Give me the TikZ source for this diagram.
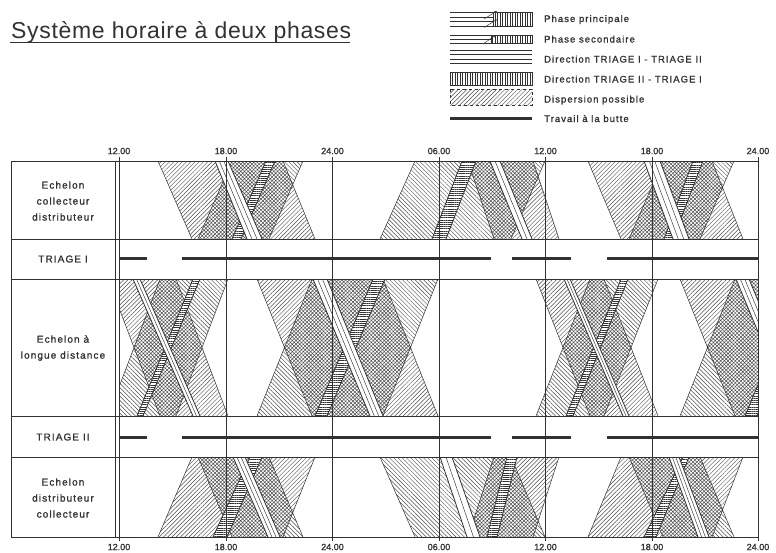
\documentclass[tikz,border=0pt]{standalone}
\usepackage{fontspec}
\setmainfont{Liberation Sans}
\newfontfamily\letterfont[LetterSpace=11, FakeBold=1.2]{Liberation Sans}
\newfontfamily\titlefont[LetterSpace=3]{Liberation Sans}
\newfontfamily\numfont[FakeBold=1.2]{Liberation Sans}
\usetikzlibrary{
  arrows.meta,
  patterns.meta,
  calc
}
\definecolor{ink_gray}{RGB}{50, 50, 50}
\definecolor{hatch_gray}{RGB}{75, 75, 75}

% quadrilateral corners: name, ytop, ybot, tl/tr/bl/br
\def\SetQuad#1#2#3#4/#5/#6/#7\relax{%
  \coordinate (#1tl) at (#4,#2);
  \coordinate (#1tr) at (#5,#2);
  \coordinate (#1br) at (#7,#3);
  \coordinate (#1bl) at (#6,#3);}

% dispersion of both directions, overlap cross-hatched
\newcommand{\DispCluster}[4]{%
  \SetQuad{A}{#1}{#2}#3\relax
  \SetQuad{B}{#1}{#2}#4\relax
  \fill[disp a] (Atl) -- (Atr) -- (Abr) -- (Abl) -- cycle;
  \fill[disp b] (Btl) -- (Btr) -- (Bbr) -- (Bbl) -- cycle;
  \begin{scope}
    \clip (Atl) -- (Atr) -- (Abr) -- (Abl) -- cycle;
    \fill[white] (Btl) -- (Btr) -- (Bbr) -- (Bbl) -- cycle;
    \fill[overlap] (Btl) -- (Btr) -- (Bbr) -- (Bbl) -- cycle;
  \end{scope}
  \draw[disp edge] (Atl) -- (Abl) (Atr) -- (Abr) (Btl) -- (Bbl) (Btr) -- (Bbr);}

% band TRIAGE I -> TRIAGE II (lines along the band)
\newcommand{\BandPar}[7][0.5]{%
  \fill[white] (#4,#2) -- (#5,#2) -- (#7,#3) -- (#6,#3) -- cycle;
  \draw[band edge] (#4,#2) -- (#6,#3) (#5,#2) -- (#7,#3);
  \foreach \f in {#1}
    \draw[band inner] ({#4+\f*(#5-#4)},#2) -- ({#6+\f*(#7-#6)},#3);}

% band TRIAGE II -> TRIAGE I (rungs across the band)
\newcommand{\BandLad}[6]{%
  \fill[white] (#3,#1) -- (#4,#1) -- (#6,#2) -- (#5,#2) -- cycle;
  \fill[rungs] (#3,#1) -- (#4,#1) -- (#6,#2) -- (#5,#2) -- cycle;
  \draw[band edge] (#3,#1) -- (#5,#2) (#4,#1) -- (#6,#2);}

\begin{document}
\begin{tikzpicture}[
    x=1pt, y=-1pt,
    % Lines
    grid line/.style={draw=ink_gray, line width=0.7pt},
    disp a/.style={pattern={Lines[angle=45,distance=3pt,line width=0.45pt]}, pattern color=hatch_gray},
    disp b/.style={pattern={Lines[angle=-45,distance=3pt,line width=0.45pt]}, pattern color=hatch_gray},
    overlap/.style={pattern={Hatch[angle=45,distance=2.6pt,line width=0.5pt]}, pattern color=hatch_gray},
    disp edge/.style={draw=ink_gray, line width=0.5pt},
    band edge/.style={draw=ink_gray, line width=0.8pt},
    band inner/.style={draw=ink_gray, line width=0.45pt},
    rungs/.style={pattern={Lines[angle=0,distance=2.2pt,line width=0.5pt]}, pattern color=ink_gray},
    rungs vert/.style={pattern={Lines[angle=90,distance=2.5pt,line width=0.5pt]}, pattern color=ink_gray},
    butte/.style={draw=ink_gray, line width=3pt},
    % Texts
    rowlbl/.style={font=\letterfont\fontsize{10}{16}\selectfont, text=ink_gray, align=center, inner sep=0pt},
    timelbl/.style={font=\numfont\fontsize{9}{10}\selectfont, text=ink_gray, inner sep=0pt},
    leglbl/.style={font=\letterfont\fontsize{9.5}{10}\selectfont, text=ink_gray, anchor=base west, inner sep=0pt}
]
\useasboundingbox (0,0) rectangle (776,552);
\fill[white] (0,0) rectangle (776,552);

% --- TITLE ---
\node[font=\titlefont\fontsize{23}{26}\selectfont, text=ink_gray, anchor=base west, inner sep=0pt] (title) at (11,38) {Système horaire à deux phases};
\draw[ink_gray, line width=1.3pt] (10,42.5) -- (350,42.5);

% --- LEGEND ---
% phase principale
\foreach \y in {12.5,17,21.5,26} \draw[band inner] (450,\y) -- (493,\y);
\fill[rungs vert] (493,12.5) rectangle (532,26);
\draw[band inner] (493,12.5) rectangle (532,26);
\draw[band inner, -{Stealth[length=3pt,width=2.5pt]}] (484,19) -- (497,11);
\draw[band inner, -{Stealth[length=3pt,width=2.5pt]}] (484,27.5) -- (497,19.5);
% phase secondaire
\foreach \y in {35,39,43} \draw[band inner] (450,\y) -- (491,\y);
\fill[rungs vert] (491,35.5) rectangle (532,43);
\draw[band inner] (491,35.5) rectangle (532,43);
\draw[band inner, -{Stealth[length=3pt,width=2.5pt]}] (483,44) -- (496,35);
% directions
\foreach \y in {50.5,54.5,59,63} \draw[band inner] (450,\y) -- (532,\y);
\fill[rungs vert] (450,72) rectangle (532,85);
\draw[band inner] (450,72) rectangle (532,85);
% dispersion, travail
\fill[disp a] (450,89) rectangle (532,105);
\draw[band inner, dashed] (450,89) rectangle (532,105);
\draw[butte] (450,118) -- (532,118);

\node[leglbl] (leg1) at (544,22) {Phase principale};
\node[leglbl] (leg2) at (544,42.5) {Phase secondaire};
\node[leglbl] (leg3) at (544,62.5) {Direction TRIAGE I - TRIAGE II};
\node[leglbl] (leg4) at (544,82.5) {Direction TRIAGE II - TRIAGE I};
\node[leglbl] (leg5) at (544,102.5) {Dispersion possible};
\node[leglbl] (leg6) at (544,122) {Travail à la butte};

% --- ROW 1: echelon collecteur distributeur ---
\begin{scope}
  \clip (119,161) rectangle (758,239);
  \DispCluster{161}{239}{158/283/192/315}{232/303/198/269}
  \DispCluster{161}{239}{468/533/494/559}{415/545/380/511}
  \DispCluster{161}{239}{588/712/621/743}{663/734/629/700}
  \BandLad{161}{239}{266}{275}{232}{241}
  \BandPar[0.33,0.67]{161}{239}{215}{228}{247}{262}
  \BandLad{161}{239}{462}{476}{432}{446}
  \BandPar{161}{239}{490}{500}{522}{532}
  \BandLad{161}{239}{693}{703}{664}{673}
  \BandPar[0.33,0.67]{161}{239}{644}{660}{673}{689}
\end{scope}

% --- ROW 3: echelon a longue distance ---
\begin{scope}
  \clip (119,279) rectangle (758,416);
  \DispCluster{279}{416}{108/176/160/228}{160/228/108/176}
  \DispCluster{279}{416}{257/383/312/438}{312/438/257/383}
  \DispCluster{279}{416}{536/604/590/658}{590/658/536/604}
  \DispCluster{279}{416}{680/800/735/855}{735/855/680/800}
  \BandLad{279}{416}{193}{200}{137}{143}
  \BandPar{279}{416}{133}{140}{193}{200}
  \BandLad{279}{416}{373}{385}{315}{327}
  \BandPar[0.33,0.67]{279}{416}{313}{327}{370}{383}
  \BandLad{279}{416}{621}{628}{566}{573}
  \BandPar{279}{416}{564}{570}{623}{629}
  \BandLad{279}{416}{802}{814}{745}{757}
  \BandPar[0.33,0.67]{279}{416}{736}{749}{793}{806}
\end{scope}

% --- ROW 5: echelon distributeur collecteur ---
\begin{scope}
  \clip (119,457) rectangle (758,537);
  \DispCluster{457}{537}{192/315/158/283}{198/269/232/303}
  \DispCluster{457}{537}{494/559/468/533}{380/511/415/545}
  \DispCluster{457}{537}{621/743/588/712}{629/700/663/734}
  \BandLad{457}{537}{250}{262}{213}{227}
  \BandPar[0.33,0.67]{457}{537}{233}{245}{268}{280}
  \BandLad{457}{537}{507}{517}{487}{497}
  \BandPar{457}{537}{440}{452}{467}{480}
  \BandLad{457}{537}{683}{689}{644}{656}
  \BandPar[0.33,0.67]{457}{537}{669}{679}{698}{709}
\end{scope}

% --- TRAVAIL A LA BUTTE ---
\foreach \y in {258,437}
  \foreach \a/\b in {119/147,182/491,512/571,607/758}
    \draw[butte] (\a,\y) -- (\b,\y);

% --- GRID ---
\foreach \y in {161,239,279,416,457,537}
  \draw[grid line] (11,\y) -- (758,\y);
\draw[grid line] (11,161) -- (11,537) (115,161) -- (115,537);
\foreach \x in {119,226,332.5,439,545.5,652,758}
  \draw[grid line] (\x,157) -- (\x,541);

% --- TIME LABELS ---
\foreach \x/\t [count=\i] in {119/12.00,226/18.00,332.5/24.00,439/06.00,545.5/12.00,652/18.00,758/24.00} {
  \node[timelbl] (ttop\i) at (\x,151) {\t};
  \node[timelbl] (tbot\i) at (\x,547) {\t};
}

% --- ROW LABELS ---
\node[rowlbl] (lab1) at (63,201) {Echelon\\collecteur\\distributeur};
\node[rowlbl] (tri1) at (63,259) {TRIAGE I};
\node[rowlbl] (lab3) at (63,348) {Echelon à\\longue distance};
\node[rowlbl] (tri2) at (63,437) {TRIAGE II};
\node[rowlbl] (lab5) at (63,498) {Echelon\\distributeur\\collecteur};

\end{tikzpicture}
\end{document}
